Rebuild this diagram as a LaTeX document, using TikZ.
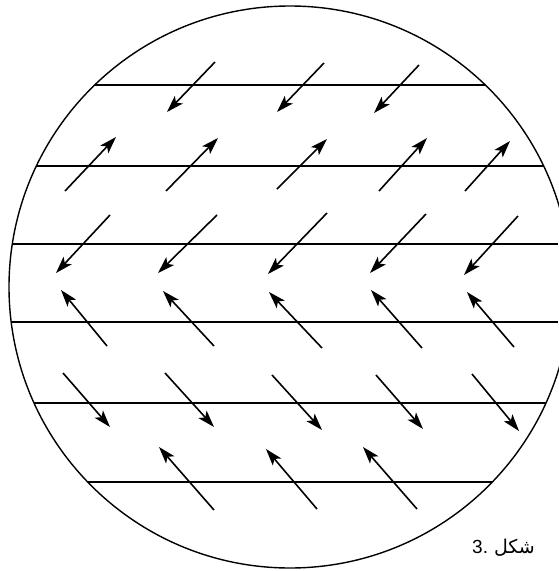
\documentclass[tikz,border=0pt]{standalone}
\usepackage{fontspec}
\usetikzlibrary{arrows.meta}
\TeXXeTstate=1
\newfontfamily\arabicfont[Script=Arabic]{DejaVu Sans}
\newfontfamily\digitfont{Liberation Sans}
\begin{document}
\begin{tikzpicture}[x=1pt,y=-1pt,
  rim/.style={line width=1.4pt},
  band/.style={line width=1.5pt},
  vec/.style={line width=1.6pt,-{Stealth[length=17pt,width=11pt,inset=4pt]}}]
\useasboundingbox (0,0) rectangle (558,571);
\coordinate (c) at (290,287);
\draw[rim] (c) circle[radius=281];
\begin{scope}
  \clip (c) circle[radius=281];
  \foreach \y in {85,166,244,322,403,482}
    \draw[band] (0,\y) -- (558,\y);
\end{scope}
% row 1: down-left
\foreach \tx/\ty/\hx/\hy in {215/62/167/112, 324/63/277/112, 419/65/374/113}
  \draw[vec] (\tx,\ty) -- (\hx,\hy);
% row 2: up-right
\foreach \tx/\ty/\hx/\hy in {65/191/116/137, 166/191/218/138, 277/189/327/139, 379/191/427/138, 465/191/510/141}
  \draw[vec] (\tx,\ty) -- (\hx,\hy);
% row 3: down-left
\foreach \tx/\ty/\hx/\hy in {110/215/56/273, 217/215/158/273, 327/213/268/274, 426/214/370/273, 518/216/464/275}
  \draw[vec] (\tx,\ty) -- (\hx,\hy);
% row 4: up-left
\foreach \tx/\ty/\hx/\hy in {107/346/61/290, 214/346/163/291, 322/348/269/292, 422/348/371/290, 514/347/467/292}
  \draw[vec] (\tx,\ty) -- (\hx,\hy);
% row 5: down-right
\foreach \tx/\ty/\hx/\hy in {63/373/110/427, 165/373/214/427, 272/375/322/430, 376/375/423/429, 472/374/519/431}
  \draw[vec] (\tx,\ty) -- (\hx,\hy);
% row 6: up-left
\foreach \tx/\ty/\hx/\hy in {214/510/159/447, 317/509/266/449, 417/509/363/447}
  \draw[vec] (\tx,\ty) -- (\hx,\hy);
\node[anchor=base west,inner sep=0pt,font=\fontsize{19}{22}\selectfont] (cap) at (472,553)
  {\arabicfont\beginR شكل \beginL{\digitfont 3.}\endL\endR};
\end{tikzpicture}
\end{document}
